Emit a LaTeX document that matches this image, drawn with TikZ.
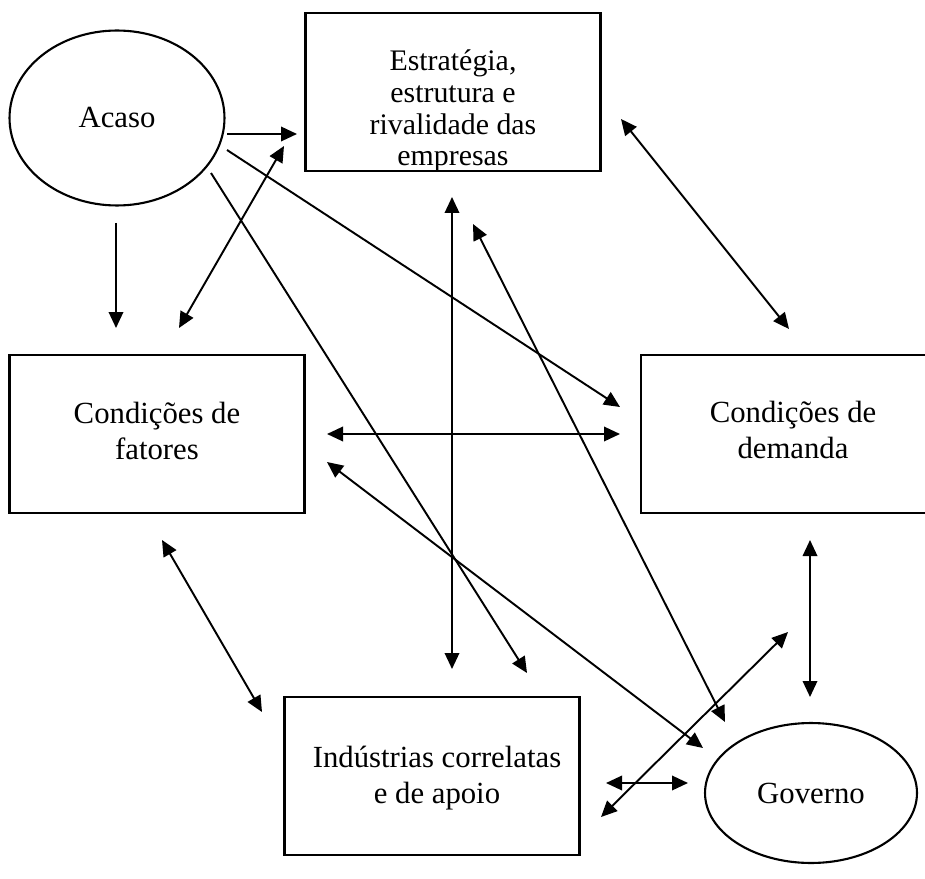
\documentclass[tikz,border=0pt]{standalone}
\usepackage{fontspec}
\setmainfont{Liberation Serif}
\usetikzlibrary{arrows.meta,shapes.geometric}
\begin{document}
\begin{tikzpicture}[x=0.02cm, y=-0.02cm,
    caixa/.style={draw, line width=1.2pt, minimum width=5.9cm, minimum height=3.17cm},
    oval/.style={ellipse, draw, line width=1.2pt, font=\fontsize{17.5}{20.5}\selectfont},
    texto/.style={align=center, font=\fontsize{17.5}{20.5}\selectfont},
    seta/.style={line width=1.1pt, -{Triangle[length=0.32cm, width=0.29cm]}},
    dupla/.style={line width=1.1pt, {Triangle[length=0.32cm, width=0.29cm]}-{Triangle[length=0.32cm, width=0.29cm]}}]
        \useasboundingbox (0,0) rectangle (925,878);
        \clip (0,0) rectangle (925,878);

        % Define the two ovals and the four boxes
        \node[oval, minimum width=4.3cm, minimum height=3.5cm] (acaso) at (117,118) {Acaso};
        \node[oval, minimum width=4.24cm, minimum height=2.8cm] (governo) at (811,793) {\raisebox{-2pt}{Governo}};
        \node[caixa] (estrategia) at (453,92) {};
        \node[caixa] (fatores) at (157,434) {};
        \node[caixa, minimum width=6.08cm] (demanda) at (793,434) {};
        \node[caixa] (industrias) at (432,776) {};

        % Texts of the boxes
        \node[texto, font=\fontsize{17}{18}\selectfont] (estrategia-txt) at (453,111) {Estratégia,\\estrutura e\\rivalidade das\\empresas};
        \node[texto] (fatores-txt) at (157,431) {Condições de\\fatores};
        \node[texto] (demanda-txt) at (793,430) {Condições de\\demanda};
        \node[texto] (industrias-txt) at (437,778) {Indústrias correlatas\\e de apoio};

        % Define the free ends of the arrows
        \foreach \nome/\x/\y in {ac-es-a/227/134, ac-es-b/297/134, ac-fa-a/116/223, ac-fa-b/116/328,
            fa-es-a/179/328, fa-es-b/284/146, ac-de-a/227/150, ac-de-b/620/407,
            ac-in-a/211/173, ac-in-b/527/673, es-in-a/452/197, es-in-b/452/669,
            es-go-a/473/224, es-go-b/725/722, es-de-a/621/119, es-de-b/789/329,
            fa-de-a/327/434, fa-de-b/620/434, fa-go-a/327/462, fa-go-b/703/748,
            fa-in-a/162/540, fa-in-b/262/712, de-go-a/810/540, de-go-b/810/697,
            in-go-a/606/783, in-go-b/688/783, in-de-a/601/817, in-de-b/788/632} {
            \coordinate (\nome) at (\x,\y);
        }

        % Arrows with one head
        \foreach \i/\j in {ac-es-a/ac-es-b, ac-fa-a/ac-fa-b, ac-de-a/ac-de-b, ac-in-a/ac-in-b} {
            \draw[seta] (\i) -- (\j);
            }

        % Arrows with two heads
        \foreach \i/\j in {fa-es-a/fa-es-b, es-in-a/es-in-b, es-go-a/es-go-b, es-de-a/es-de-b,
            fa-de-a/fa-de-b, fa-go-a/fa-go-b, fa-in-a/fa-in-b, de-go-a/de-go-b,
            in-go-a/in-go-b, in-de-a/in-de-b} {
            \draw[dupla] (\i) -- (\j);
            }
    \end{tikzpicture}
\end{document}
